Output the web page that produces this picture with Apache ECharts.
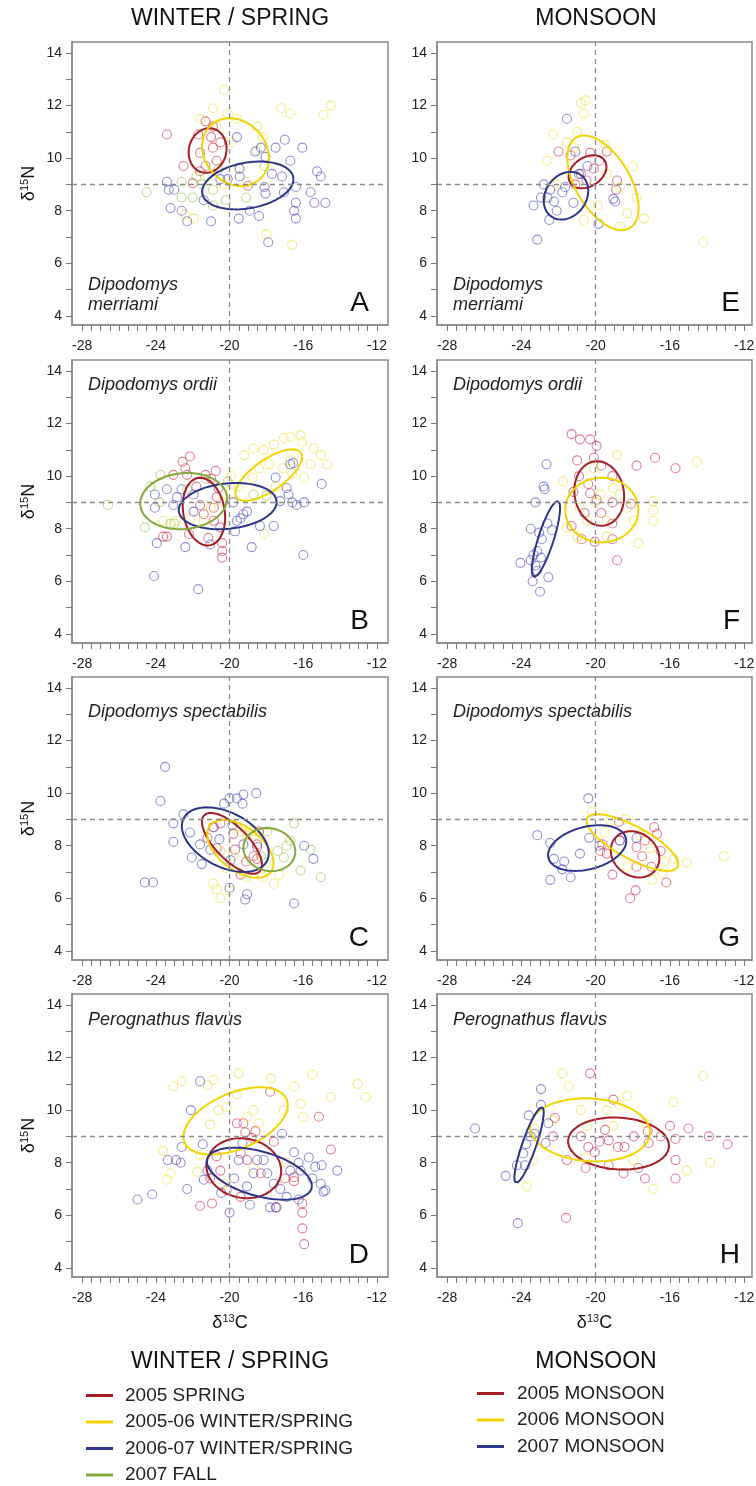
<!DOCTYPE html>
<html><head><meta charset="utf-8">
<script src="https://cdn.jsdelivr.net/npm/echarts@6/dist/echarts.min.js"></script>
<style>html,body{margin:0;padding:0;background:#fff}#c{width:756px;height:1486px}</style>
</head><body><div id="c"></div>
<script>
// ---------- tick labels / categories ----------
const xTicks = [-28, -24, -20, -16, -12];
const yTicks = [4, 6, 8, 10, 12, 14];
const xMinorTicks = [-28,-27.5,-27,-26.5,-26,-25.5,-25,-24.5,-24,-23.5,-23,-22.5,-22,-21.5,-21,-20.5,-20,-19.5,-19,-18.5,-18,-17.5,-17,-16.5,-16,-15.5,-15,-14.5,-14,-13.5,-13,-12.5,-12];
const yMinorTicks = [4,5,6,7,8,9,10,11,12,13,14];
const wsNames = ['2005 SPRING', '2005-06 WINTER/SPRING', '2006-07 WINTER/SPRING', '2007 FALL'];
const mNames = ['2005 MONSOON', '2006 MONSOON', '2007 MONSOON'];
const refX = -20, refY = 9;

// ---------- Panel A : D. merriami, winter/spring ----------
const A_red = [[-23.4,10.9],[-22.5,9.7],[-21.6,10.2],[-21.3,11.4],[-21.0,10.8],[-20.9,10.4],[-21.3,9.7],[-20.5,10.6],[-21.6,9.5],[-22.0,9.05],[-19.0,8.95],[-20.9,11.2],[-21.7,10.9],[-20.7,9.9]];
const A_yel = [[-20.3,12.6],[-20.1,11.7],[-20.9,11.9],[-19.1,9.1],[-18.5,10.3],[-17.2,11.9],[-16.7,11.7],[-14.9,11.65],[-14.5,12.0],[-16.6,6.7],[-18.0,7.1],[-21.95,7.7],[-22.4,7.85],[-18.5,11.2],[-19.6,11.5],[-19.9,10.6],[-20.7,11.2],[-21.6,11.5],[-18.2,10.8],[-19.5,9.6],[-21.2,9.3],[-20.3,9.0]];
const A_blu = [[-23.4,9.1],[-23.3,8.8],[-23.0,8.8],[-23.2,8.1],[-22.6,8.0],[-22.3,7.6],[-21.0,7.6],[-21.4,8.4],[-20.5,9.2],[-20.1,9.2],[-19.6,10.8],[-19.45,9.6],[-19.45,9.3],[-19.5,7.7],[-18.6,10.25],[-18.3,10.4],[-18.05,10.05],[-18.9,8.0],[-18.4,7.8],[-18.1,8.9],[-18.05,8.65],[-17.7,9.4],[-17.5,10.4],[-17.0,10.7],[-17.15,9.3],[-17.05,8.7],[-16.7,9.9],[-16.4,8.9],[-16.4,8.3],[-16.5,8.0],[-16.4,7.7],[-16.05,10.4],[-15.6,8.7],[-15.4,8.3],[-15.25,9.5],[-15.05,9.3],[-14.8,8.3],[-17.9,6.8]];
const A_grn = [[-24.5,8.7],[-22.6,9.1],[-22.6,8.5],[-22.0,8.5],[-20.9,8.8],[-20.9,8.2],[-19.1,8.5],[-18.1,9.7],[-21.5,9.0],[-20.6,9.6],[-21.8,9.3],[-20.2,8.4]];
// ellipses: [centre x, centre y, half-range x, half-range y, phase(deg)]
const A_ellRed = [-21.19, 10.29, 1.03, 0.85, 85];
const A_ellYel = [-19.68, 10.23, 1.81, 1.29, 100];
const A_ellBlu = [-19.01, 8.96, 2.48, 0.91, 75];

// ---------- Panel B : D. ordii, winter/spring ----------
const B_red = [[-23.6,7.7],[-23.4,7.7],[-23.05,10.05],[-22.55,10.55],[-22.4,10.3],[-22.15,10.75],[-22.3,10.05],[-22.2,7.8],[-21.6,8.9],[-21.4,8.55],[-21.3,10.05],[-21.15,7.65],[-20.85,8.8],[-20.85,8.3],[-20.75,10.2],[-20.6,9.55],[-20.5,8.05],[-20.4,7.45],[-20.4,7.15],[-20.4,6.9],[-20.7,9.2],[-21.8,9.6],[-21.0,9.9]];
const B_yel = [[-19.2,10.8],[-18.7,11.05],[-18.15,11.0],[-17.6,11.2],[-17.05,11.45],[-16.7,11.5],[-16.15,11.55],[-16.05,11.3],[-15.45,11.05],[-15.05,10.8],[-14.7,10.45],[-15.6,10.45],[-15.95,9.95],[-16.6,10.1],[-17.1,10.3],[-17.85,10.45],[-18.4,10.3],[-18.75,9.95],[-19.5,9.6],[-19.9,9.35],[-20.45,9.05],[-21.0,8.8],[-21.4,8.3],[-22.1,8.4],[-23.6,8.3],[-22.9,8.3],[-19.9,10.0],[-17.5,9.6],[-18.1,7.8],[-16.7,10.6]];
const B_blu = [[-24.05,9.3],[-24.05,8.8],[-23.95,7.45],[-23.4,9.5],[-23.05,8.9],[-22.85,9.2],[-21.95,9.3],[-21.95,8.65],[-19.8,9.0],[-19.7,7.9],[-19.6,8.3],[-19.4,8.4],[-19.25,8.55],[-19.05,8.65],[-18.35,8.1],[-17.6,8.1],[-17.5,9.95],[-17.25,9.05],[-16.9,9.55],[-16.8,9.3],[-16.7,10.45],[-16.55,10.5],[-16.6,9.0],[-16.35,8.9],[-15.95,9.0],[-15.0,9.7],[-24.1,6.2],[-21.7,5.7],[-22.4,7.3],[-21.05,7.4],[-18.8,7.3],[-16.0,7.0],[-22.6,9.5]];
const B_grn = [[-26.6,8.9],[-24.6,8.05],[-23.75,10.05],[-23.2,8.2],[-23.0,8.2],[-24.3,9.6],[-22.3,9.5],[-21.3,9.9],[-18.7,9.3],[-18.0,9.25],[-20.1,9.8],[-23.8,9.0]];
const B_ellRed = [-21.39, 8.65, 1.15, 1.29, 100];
const B_ellYel = [-17.87, 10.04, 1.81, 0.98, 45];
const B_ellBlu = [-20.10, 8.86, 2.66, 0.88, 80];
const B_ellGrn = [-22.49, 9.05, 2.36, 1.07, 85];

// ---------- Panel C : D. spectabilis, winter/spring ----------
const C_red = [[-21.2,8.3],[-20.7,7.9],[-19.8,8.45],[-19.7,7.85],[-19.1,7.4],[-18.5,8.05],[-18.4,8.55],[-18.7,7.6],[-20.5,8.85],[-19.4,6.9],[-20.9,8.7],[-18.5,7.5]];
const C_yel = [[-20.7,6.35],[-20.5,6.0],[-19.8,7.6],[-19.4,8.55],[-19.05,8.4],[-18.9,8.6],[-18.7,8.55],[-18.35,8.35],[-18.0,7.35],[-17.6,6.55],[-18.2,6.8],[-19.1,6.8],[-20.2,7.15],[-20.9,6.55],[-20.5,7.8],[-20.0,6.3],[-19.6,8.7],[-17.3,6.9]];
const C_blu = [[-23.5,11.0],[-23.75,9.7],[-24.6,6.6],[-24.15,6.6],[-23.05,8.85],[-23.05,8.15],[-22.5,9.2],[-22.15,8.5],[-22.05,7.55],[-21.6,8.05],[-21.5,7.3],[-21.05,7.85],[-20.85,8.7],[-20.55,8.25],[-20.0,9.8],[-19.95,7.45],[-20.0,6.4],[-19.85,8.8],[-19.6,9.8],[-19.3,9.6],[-19.25,9.95],[-19.25,8.05],[-19.15,5.95],[-19.05,6.15],[-18.55,10.0],[-18.5,7.95],[-15.95,8.0],[-15.45,7.5],[-16.5,5.8],[-20.3,9.6]];
const C_grn = [[-17.95,8.55],[-17.4,7.8],[-16.7,8.2],[-17.05,7.55],[-16.5,8.85],[-16.15,7.05],[-15.05,6.8],[-15.6,7.85],[-18.3,7.6],[-16.9,8.0]];
const C_ellRed = [-19.87, 8.09, 1.63, 1.16, 135];
const C_ellYel = [-19.41, 7.88, 1.80, 1.10, 120];
const C_ellBlu = [-20.23, 8.23, 2.36, 1.23, 115];
const C_ellGrn = [-17.84, 7.85, 1.41, 0.82, 95];

// ---------- Panel D : P. flavus, winter/spring ----------
const D_red = [[-21.6,6.35],[-21.05,7.4],[-20.95,6.45],[-20.7,8.25],[-20.5,7.7],[-20.15,6.95],[-19.6,9.5],[-19.25,9.5],[-19.15,9.15],[-19.05,8.1],[-19.4,8.35],[-18.8,8.95],[-17.8,10.7],[-17.6,8.8],[-17.0,7.4],[-16.5,7.3],[-16.05,6.45],[-16.05,6.1],[-16.05,5.5],[-15.95,4.9],[-15.15,9.75],[-14.5,8.5],[-16.5,7.45],[-17.5,6.3],[-18.3,7.6],[-19.4,6.7],[-18.6,9.2]];
const D_yel = [[-23.6,8.45],[-23.05,10.9],[-22.6,11.1],[-23.4,7.35],[-23.2,7.6],[-21.75,7.65],[-21.6,8.3],[-21.05,9.45],[-20.85,11.15],[-20.6,10.0],[-20.15,10.1],[-19.5,11.4],[-19.05,9.75],[-18.7,10.0],[-18.4,9.5],[-17.75,11.2],[-16.9,8.0],[-16.5,10.9],[-16.15,10.25],[-16.0,9.75],[-15.5,11.35],[-14.5,10.5],[-13.05,11.0],[-12.6,10.5],[-20.3,7.2],[-18.7,7.8],[-17.05,10.0],[-21.2,10.95],[-19.6,10.6]];
const D_blu = [[-25.0,6.6],[-24.2,6.8],[-23.35,8.1],[-22.9,8.1],[-22.65,8.0],[-22.6,8.6],[-22.3,7.0],[-22.1,10.0],[-21.6,11.1],[-21.45,8.7],[-21.4,7.35],[-21.2,7.7],[-20.45,6.85],[-20.0,6.1],[-19.75,7.4],[-19.5,8.1],[-19.3,8.75],[-19.05,7.1],[-18.9,6.4],[-18.7,7.6],[-18.5,8.1],[-18.15,8.1],[-17.95,7.6],[-17.6,7.2],[-17.15,9.1],[-17.25,7.0],[-16.9,6.7],[-16.5,8.4],[-16.7,7.7],[-16.25,8.0],[-16.15,7.7],[-15.7,8.2],[-15.5,7.4],[-15.35,7.85],[-15.05,7.2],[-15.0,7.9],[-14.9,6.9],[-14.8,6.95],[-14.15,7.7],[-17.8,6.3],[-17.45,6.3],[-16.25,6.6]];
const D_ellRed = [-19.23, 7.79, 2.03, 1.14, 95];
const D_ellYel = [-19.67, 9.59, 2.83, 1.28, 62];
const D_ellBlu = [-18.38, 7.58, 2.85, 0.99, 118];

// ---------- Panel E : D. merriami, monsoon ----------
const E_red = [[-22.0,10.25],[-21.35,10.1],[-20.8,9.4],[-20.5,9.15],[-20.3,10.2],[-19.4,10.25],[-18.85,9.15],[-18.9,8.8],[-20.1,9.6],[-21.1,9.0],[-19.8,9.9]];
const E_yel = [[-22.3,10.9],[-20.8,12.1],[-20.55,12.2],[-20.65,11.7],[-22.6,9.9],[-21.55,10.6],[-20.65,7.65],[-18.7,7.4],[-18.3,7.9],[-17.4,7.7],[-14.2,6.8],[-19.4,9.4],[-18.7,8.9],[-18.0,9.7],[-19.9,8.2],[-21.2,10.4],[-21.0,11.0],[-19.5,10.5],[-22.1,9.0],[-17.8,8.5]];
const E_blu = [[-21.55,11.5],[-23.35,8.2],[-23.15,6.9],[-22.95,8.5],[-22.5,7.65],[-22.45,8.8],[-22.25,8.35],[-22.1,8.0],[-21.8,8.7],[-21.65,8.9],[-21.2,8.3],[-21.1,10.25],[-20.9,9.4],[-20.45,9.7],[-19.85,7.5],[-19.05,8.45],[-18.95,8.35],[-22.6,8.5],[-22.8,9.0]];
const E_ellRed = [-20.44, 9.48, 1.02, 0.63, 72];
const E_ellYel = [-19.61, 9.06, 1.92, 1.80, 122];
const E_ellBlu = [-21.60, 8.57, 1.20, 0.91, 78];

// ---------- Panel F : D. ordii, monsoon ----------
const F_red = [[-21.3,11.6],[-20.85,11.4],[-20.3,11.4],[-19.95,11.15],[-21.0,10.6],[-20.9,10.0],[-21.2,9.4],[-21.3,8.1],[-20.6,8.6],[-20.4,9.7],[-20.3,9.35],[-20.1,10.7],[-19.95,9.1],[-19.7,8.6],[-19.7,10.4],[-19.1,10.0],[-19.1,9.0],[-19.1,8.2],[-19.1,7.6],[-18.85,6.8],[-18.1,8.95],[-17.8,10.4],[-16.8,10.7],[-15.7,10.3],[-20.75,7.6],[-20.05,7.5]];
const F_yel = [[-21.75,9.8],[-21.55,8.05],[-20.85,8.8],[-20.45,8.3],[-19.75,9.3],[-19.4,8.3],[-19.05,9.55],[-18.7,9.3],[-18.3,8.8],[-17.95,8.3],[-17.7,7.45],[-16.9,9.05],[-16.9,8.3],[-16.9,8.7],[-18.85,10.8],[-14.55,10.55],[-20.1,10.3],[-21.0,7.7],[-19.4,7.7],[-20.0,9.0]];
const F_blu = [[-24.05,6.7],[-23.5,6.8],[-23.4,6.0],[-23.5,8.0],[-23.25,9.0],[-23.15,7.15],[-23.05,7.85],[-23.0,5.6],[-22.95,6.9],[-22.9,7.6],[-22.8,9.6],[-22.75,9.5],[-22.65,10.45],[-22.6,8.2],[-22.55,6.15],[-22.35,7.95],[-23.15,6.4],[-23.25,6.6],[-23.35,7.0]];
const F_ellRed = [-19.81, 9.34, 1.34, 1.23, 95];
const F_ellYel = [-19.67, 8.71, 1.97, 1.23, 90];
const F_ellBlu = [-22.68, 7.61, 0.76, 1.44, 35];

// ---------- Panel G : D. spectabilis, monsoon ----------
const G_red = [[-19.75,7.8],[-19.65,8.05],[-19.4,7.7],[-19.1,6.9],[-18.75,8.9],[-18.7,8.2],[-18.15,6.0],[-17.85,6.3],[-17.8,7.95],[-17.5,7.6],[-17.35,8.2],[-16.85,8.7],[-16.7,8.45],[-16.5,7.8],[-16.2,6.6],[-17.0,7.2],[-17.8,7.2]];
const G_yel = [[-20.2,9.3],[-19.2,8.95],[-18.4,9.0],[-17.6,8.4],[-17.05,7.9],[-16.3,7.4],[-15.8,7.5],[-15.1,7.35],[-13.1,7.6],[-18.3,7.2],[-16.95,6.7],[-16.4,6.95],[-19.5,8.5]];
const G_blu = [[-23.15,8.4],[-22.45,8.1],[-22.45,6.7],[-22.25,7.5],[-21.8,7.1],[-21.7,7.4],[-21.35,6.8],[-20.85,7.7],[-20.4,9.8],[-20.35,8.3],[-18.7,8.2],[-17.8,8.3],[-19.8,8.0]];
const G_ellRed = [-17.88, 7.67, 1.31, 0.88, 100];
const G_ellYel = [-18.02, 8.12, 2.47, 1.08, 140];
const G_ellBlu = [-20.46, 7.91, 2.11, 0.87, 72];

// ---------- Panel H : P. flavus, monsoon ----------
const H_red = [[-22.3,9.0],[-22.2,9.7],[-21.55,8.1],[-21.6,5.9],[-20.8,9.0],[-20.55,7.8],[-20.3,11.4],[-20.4,8.6],[-20.05,8.4],[-19.8,8.8],[-19.5,9.25],[-19.3,8.85],[-19.3,7.9],[-19.05,10.4],[-18.8,8.6],[-18.5,7.6],[-17.95,9.0],[-17.7,7.8],[-17.35,7.4],[-17.2,9.2],[-17.15,8.75],[-16.5,9.0],[-16.0,9.4],[-15.7,8.9],[-15.7,8.1],[-15.7,7.4],[-15.0,9.3],[-13.9,9.0],[-12.9,8.7],[-18.45,8.6]];
const H_yel = [[-21.8,11.4],[-21.45,10.9],[-20.8,10.0],[-20.45,9.4],[-19.4,10.0],[-18.3,10.55],[-19.05,9.4],[-18.0,8.1],[-16.9,7.0],[-15.8,10.3],[-14.2,11.3],[-13.85,8.0],[-15.1,7.7],[-23.7,7.1],[-23.35,8.1],[-20.55,8.2],[-23.3,9.3],[-17.3,9.5],[-22.3,9.6],[-18.7,10.2]];
const H_blu = [[-24.25,7.9],[-24.85,7.5],[-24.2,5.7],[-23.9,8.35],[-23.6,9.8],[-23.5,9.0],[-22.95,10.8],[-22.95,10.2],[-22.7,8.75],[-22.55,9.5],[-23.8,7.9],[-23.75,8.7],[-26.5,9.3],[-23.3,9.1]];
const H_ellRed = [-18.77, 8.73, 2.72, 0.99, 95];
const H_ellYel = [-20.30, 9.25, 3.23, 1.20, 95];
const H_ellBlu = [-23.59, 8.67, 0.79, 1.44, 30];

// ---------- styling ----------
const FONT = '"Liberation Sans", Arial, Helvetica, sans-serif';
const ptColors = ['rgba(205,40,75,0.75)', 'rgba(238,222,40,0.7)', 'rgba(70,70,185,0.75)', 'rgba(150,195,70,0.75)'];
const elColors = ['#a51d26', '#f2d400', '#2d3688', '#86a83a'];

const panels = [
  {letter:'A', col:0, row:0, pts:[A_red,A_yel,A_blu,A_grn], ell:[A_ellRed,A_ellYel,A_ellBlu,null], names:wsNames, sp:['Dipodomys','merriami'], spBottom:true},
  {letter:'B', col:0, row:1, pts:[B_red,B_yel,B_blu,B_grn], ell:[B_ellRed,B_ellYel,B_ellBlu,B_ellGrn], names:wsNames, sp:['Dipodomys ordii'], spOff:25},
  {letter:'C', col:0, row:2, pts:[C_red,C_yel,C_blu,C_grn], ell:[C_ellRed,C_ellYel,C_ellBlu,C_ellGrn], names:wsNames, sp:['Dipodomys spectabilis'], spOff:35},
  {letter:'D', col:0, row:3, pts:[D_red,D_yel,D_blu], ell:[D_ellRed,D_ellYel,D_ellBlu], names:wsNames, sp:['Perognathus flavus'], spOff:26},
  {letter:'E', col:1, row:0, pts:[E_red,E_yel,E_blu], ell:[E_ellRed,E_ellYel,E_ellBlu], names:mNames, sp:['Dipodomys','merriami'], spBottom:true},
  {letter:'F', col:1, row:1, pts:[F_red,F_yel,F_blu], ell:[F_ellRed,F_ellYel,F_ellBlu], names:mNames, sp:['Dipodomys ordii'], spOff:25},
  {letter:'G', col:1, row:2, pts:[G_red,G_yel,G_blu], ell:[G_ellRed,G_ellYel,G_ellBlu], names:mNames, sp:['Dipodomys spectabilis'], spOff:35},
  {letter:'H', col:1, row:3, pts:[H_red,H_yel,H_blu], ell:[H_ellRed,H_ellYel,H_ellBlu], names:mNames, sp:['Perognathus flavus'], spOff:26}
];

const gridTops = [42, 360, 677, 994];
const gridH = 283;
const colLeft = [72, 437];
const colW = [316, 315];
const colXMax = [-11.4, -11.58];

function ellipsePts(p) {
  const [cx, cy, a, b, ph] = p;
  const d = ph * Math.PI / 180;
  const out = [];
  for (let k = 0; k <= 90; k++) {
    const t = k * 2 * Math.PI / 90;
    out.push([cx + a * Math.cos(t), cy + b * Math.cos(t - d)]);
  }
  return out;
}

const grids = [], xAxes = [], yAxes = [], series = [], graphics = [];
const supRich = {
  d: {fontSize: 18, color: '#111', fontFamily: FONT},
  s: {fontSize: 11, color: '#111', fontFamily: FONT, padding: [0, 0, 9, 0]}
};

panels.forEach((p, i) => {
  const left = colLeft[p.col], top = gridTops[p.row], w = colW[p.col];
  grids.push({left: left, top: top, width: w, height: gridH, show: true, borderColor: '#8a8a8a', borderWidth: 1.5, containLabel: false, outerBoundsMode: 'none'});
  const xa = {
    gridIndex: i, type: 'value', min: -28.55, max: colXMax[p.col],
    axisLine: {show: true, onZero: false, lineStyle: {color: '#8a8a8a', width: 1.5}},
    axisTick: {show: true, inside: false, length: 6, customValues: xMinorTicks, lineStyle: {color: '#777', width: 1}},
    axisLabel: {show: true, customValues: xTicks, margin: 14, fontSize: 14, color: '#222', fontFamily: FONT},
    splitLine: {show: false}
  };
  if (p.row === 3) {
    xa.name = '{d|δ}{s|13}{d|C}';
    xa.nameLocation = 'middle';
    xa.nameGap = 36;
    xa.nameTextStyle = {rich: supRich};
  }
  xAxes.push(xa);
  const ya = {
    gridIndex: i, type: 'value', min: 3.65, max: 14.42,
    axisLine: {show: true, onZero: false, lineStyle: {color: '#8a8a8a', width: 1.5}},
    axisTick: {show: true, inside: false, length: 6, customValues: yMinorTicks, lineStyle: {color: '#777', width: 1}},
    axisLabel: {show: true, customValues: yTicks, margin: 10, fontSize: 14, color: '#222', fontFamily: FONT},
    splitLine: {show: false}
  };
  if (p.col === 0) {
    ya.name = '{d|δ}{s|15}{d|N}';
    ya.nameLocation = 'middle';
    ya.nameGap = 33;
    ya.nameRotate = 90;
    ya.nameTextStyle = {rich: supRich};
  }
  yAxes.push(ya);

  p.pts.forEach((arr, k) => {
    const s = {
      type: 'scatter', name: 'pts ' + p.names[k], xAxisIndex: i, yAxisIndex: i, data: arr,
      symbol: 'circle', symbolSize: 9, silent: true, z: 2,
      itemStyle: {color: 'rgba(0,0,0,0)', borderColor: ptColors[k], borderWidth: 1.1}
    };
    if (k === 0) {
      s.markLine = {
        silent: true, symbol: ['none', 'none'], label: {show: false},
        lineStyle: {color: '#8c8c8c', type: [5, 4], width: 1.3},
        data: [{xAxis: refX}, {yAxis: refY}]
      };
    }
    series.push(s);
  });
  p.ell.forEach((e, k) => {
    if (!e) return;
    series.push({
      type: 'line', name: p.names[k], xAxisIndex: i, yAxisIndex: i, data: ellipsePts(e),
      showSymbol: false, symbol: 'none', smooth: false, silent: true, z: 4,
      lineStyle: {color: elColors[k], width: 2},
      itemStyle: {color: elColors[k]}
    });
  });

  // panel letter
  const rightEdge = p.col === 0 ? 369 : 740;
  graphics.push({type: 'text', x: rightEdge, y: top + gridH - 22,
    style: {text: p.letter, fill: '#111', font: '28px ' + FONT, textAlign: 'right', textVerticalAlign: 'middle'}});
  // species name
  const spX = p.col === 0 ? 88 : 453;
  if (p.spBottom) {
    graphics.push({type: 'text', x: spX, y: top + 243, style: {text: p.sp[0], fill: '#222', font: 'italic 18px ' + FONT, textAlign: 'left', textVerticalAlign: 'middle'}});
    graphics.push({type: 'text', x: spX, y: top + 263, style: {text: p.sp[1], fill: '#222', font: 'italic 18px ' + FONT, textAlign: 'left', textVerticalAlign: 'middle'}});
  } else {
    graphics.push({type: 'text', x: spX, y: top + p.spOff, style: {text: p.sp[0], fill: '#222', font: 'italic 18px ' + FONT, textAlign: 'left', textVerticalAlign: 'middle'}});
  }
});

// headings
[['WINTER / SPRING', 230], ['MONSOON', 596]].forEach(([t, x]) => {
  graphics.push({type: 'text', x: x, y: 19, style: {text: t, fill: '#111', font: '23px ' + FONT, textAlign: 'center', textVerticalAlign: 'middle'}});
  graphics.push({type: 'text', x: x, y: 1362, style: {text: t, fill: '#111', font: '23px ' + FONT, textAlign: 'center', textVerticalAlign: 'middle'}});
});

const legends = [
  {data: wsNames.map((n, k) => ({name: n, itemStyle: {color: elColors[k]}})), orient: 'vertical', left: 86, top: 1386, padding: 0,
   itemWidth: 27, itemHeight: 3, icon: 'rect', itemGap: 7.5, selectedMode: false,
   textStyle: {fontSize: 19, color: '#222', fontFamily: FONT, lineHeight: 19, padding: [0, 0, 0, 7]}},
  {data: mNames.map((n, k) => ({name: n, itemStyle: {color: elColors[k]}})), orient: 'vertical', left: 477, top: 1384, padding: 0,
   itemWidth: 27, itemHeight: 3, icon: 'rect', itemGap: 7.5, selectedMode: false,
   textStyle: {fontSize: 19, color: '#222', fontFamily: FONT, lineHeight: 19, padding: [0, 0, 0, 8]}}
];

const chart = echarts.init(document.getElementById('c'), null, {renderer: 'canvas'});
chart.setOption({
  animation: false,
  backgroundColor: '#fff',
  textStyle: {fontFamily: FONT},
  grid: grids, xAxis: xAxes, yAxis: yAxes, series: series,
  legend: legends, graphic: graphics
});
</script></body></html>
